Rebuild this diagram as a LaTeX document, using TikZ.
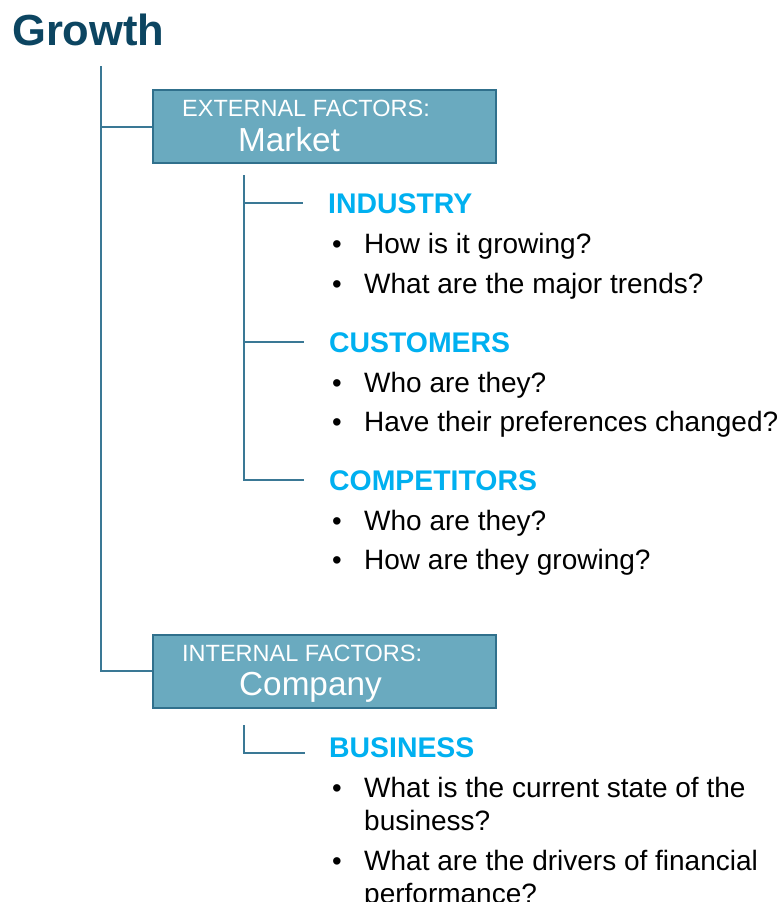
\documentclass[tikz,border=0pt]{standalone}
\usepackage{fontspec}
\setmainfont{Liberation Sans}
\definecolor{titlec}{HTML}{0C4561}
\definecolor{boxfill}{HTML}{6AAABF}
\definecolor{boxline}{HTML}{30708C}
\definecolor{linec}{HTML}{3A7895}
\definecolor{headc}{HTML}{00B0F0}
\begin{document}
\begin{tikzpicture}[x=1pt,y=-1pt,
  box/.style={draw=boxline, line width=2pt, fill=boxfill, minimum width=343pt, minimum height=73pt, inner sep=0pt},
  boxsmall/.style={anchor=base west, inner sep=0pt, text=white, font=\fontsize{23.5}{28}\selectfont},
  boxbig/.style={anchor=base west, inner sep=0pt, text=white, font=\fontsize{33.3}{39}\selectfont},
  head/.style={anchor=base west, inner sep=0pt, text=headc, font=\fontsize{28.4}{33}\selectfont\bfseries},
  item/.style={anchor=base west, inner sep=0pt, text=black, font=\fontsize{28}{33}\selectfont},
  bul/.style={anchor=base west, inner sep=0pt, text=black, font=\fontsize{27.5}{33}\selectfont},
  conn/.style={draw=linec, line width=2.4pt}]
\useasboundingbox (0,0) rectangle (781,902);
\fill[white] (0,0) rectangle (781,902);

% title
\node[anchor=base west, inner sep=0pt, text=titlec, font=\fontsize{43.5}{52}\selectfont\bfseries] (title) at (12,45) {Growth};

% boxes
\node[box] (market) at (324.5,126.75) {};
\node[boxsmall] (mk1) at (182,116) {EXTERNAL FACTORS:};
\node[boxbig] (mk2) at (238,151) {Market};

\node[box] (company) at (324.5,671) {};
\node[boxsmall] (co1) at (182,661) {INTERNAL FACTORS:};
\node[boxbig] (co2) at (239,695) {Company};

% main connectors
\coordinate (mtop) at (101,66);
\draw[conn] (mtop) |- (company.west);
\draw[conn] (mtop |- market.west) -- (market.west);

% market items
\node[head] (industry) at (328,213) {INDUSTRY};
\node[bul] (b1) at (332,253) {•};
\node[item] (t1) at (364,253) {How is it growing?};
\node[bul] (b2) at (332,293) {•};
\node[item] (t2) at (364,293) {What are the major trends?};

\node[head] (customers) at (329,352) {CUSTOMERS};
\node[bul] (b3) at (332,392) {•};
\node[item] (t3) at (364,392) {Who are they?};
\node[bul] (b4) at (332,431) {•};
\node[item] (t4) at (364,431) {Have their preferences changed?};

\node[head] (competitors) at (329,490) {COMPETITORS};
\node[bul] (b5) at (332,530) {•};
\node[item] (t5) at (364,530) {Who are they?};
\node[bul] (b6) at (332,569) {•};
\node[item] (t6) at (364,569) {How are they growing?};

\coordinate (stop) at (244,175);
\draw[conn] (stop) |- ([xshift=-25pt]competitors.west);
\draw[conn] (stop |- industry.west) -- ([xshift=-25pt]industry.west);
\draw[conn] (stop |- customers.west) -- ([xshift=-25pt]customers.west);

% company items
\node[head] (business) at (329,757) {BUSINESS};
\coordinate (btop) at (244,725);
\coordinate (bend) at (305,753);
\draw[conn] (btop) |- (bend);

\node[bul] (b7) at (332,797) {•};
\node[item] (t7a) at (364,797) {What is the current state of the};
\node[item] (t7b) at (364,830) {business?};
\node[bul] (b8) at (332,870) {•};
\node[item] (t8a) at (364,870) {What are the drivers of financial};
\node[item] (t8b) at (364,903) {performance?};
\end{tikzpicture}
\end{document}
